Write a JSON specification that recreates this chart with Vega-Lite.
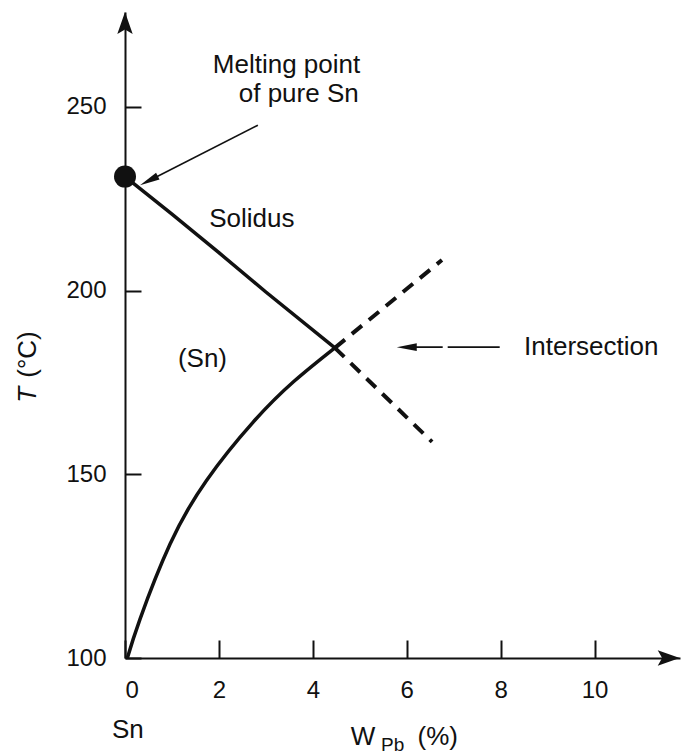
{
  "$schema": "https://vega.github.io/schema/vega-lite/v6.json",
  "width": 555,
  "height": 646,
  "autosize": "none",
  "padding": {"left": 125, "top": 12, "right": 2, "bottom": 98},
  "background": "white",
  "config": {
    "view": {"stroke": null},
    "font": "Liberation Sans",
    "axis": {
      "grid": false,
      "domainColor": "#111",
      "domainWidth": 2,
      "tickColor": "#111",
      "tickWidth": 2,
      "labelColor": "#111",
      "labelFont": "Liberation Sans",
      "labelFontSize": 24,
      "title": null
    }
  },
  "datasets": {
    "solidus": [
      {"x": 0, "y": 231},
      {"x": 1, "y": 220.8},
      {"x": 2, "y": 210.3},
      {"x": 3, "y": 199.6},
      {"x": 4.47, "y": 184.4}
    ],
    "solvus": [
      {"x": 0.05, "y": 100},
      {"x": 0.32, "y": 110.6},
      {"x": 0.96, "y": 131},
      {"x": 1.74, "y": 148.4},
      {"x": 2.73, "y": 164.2},
      {"x": 3.6, "y": 175.3},
      {"x": 4.47, "y": 184.4}
    ],
    "solidusExt": [
      {"x": 4.47, "y": 184.4},
      {"x": 6.54, "y": 158.8}
    ],
    "solvusExt": [
      {"x": 4.47, "y": 184.4},
      {"x": 6.75, "y": 208.3}
    ],
    "melt": [{"x": 0, "y": 231}],
    "labels": [
      {"x": 3.44, "y": 261.4, "text": "Melting point"},
      {"x": 3.7, "y": 253.4, "text": "of pure Sn"},
      {"x": 2.7, "y": 219.5, "text": "Solidus"},
      {"x": 1.65, "y": 181.4, "text": "(Sn)"},
      {"x": 9.93, "y": 184.6, "text": "Intersection"},
      {"x": 0.06, "y": 80.4, "text": "Sn"},
      {"x": 5.07, "y": 78.5, "text": "W"},
      {"x": 6.66, "y": 78.5, "text": "(%)"}
    ],
    "sub": [{"x": 5.7, "y": 76.4, "text": "Pb"}],
    "ytitleT": [{"x": -2.07, "y": 171.6, "text": "T"}],
    "ytitleU": [{"x": -2.07, "y": 182.6, "text": "(°C)"}],
    "arrow1": [{"x": 2.83, "y": 245.0, "x2": 0.509, "y2": 229.9}],
    "arrow1Head": [{"x": 0.509, "y": 229.9}],
    "arrow2": [{"x": 7.98, "y": 184.6, "x2": 6.0, "y2": 184.6}],
    "arrow2Head": [{"x": 6.0, "y": 184.6}],
    "axisHeadUp": [{"x": 0, "y": 272.8}],
    "axisHeadRight": [{"x": 11.58, "y": 100}]
  },
  "encoding": {
    "x": {
      "field": "x",
      "type": "quantitative",
      "scale": {"domain": [0, 11.82], "nice": false, "zero": false},
      "axis": {"values": [0, 2, 4, 6, 8, 10], "tickSize": -18, "labelPadding": 38}
    },
    "y": {
      "field": "y",
      "type": "quantitative",
      "scale": {"domain": [100, 275.8], "nice": false, "zero": false},
      "axis": {"values": [100, 150, 200, 250], "tickSize": -16, "labelPadding": 35}
    }
  },
  "layer": [
    {
      "data": {"name": "solidus"},
      "mark": {"type": "line", "color": "#111", "strokeWidth": 3.5}
    },
    {
      "data": {"name": "solvus"},
      "mark": {"type": "line", "color": "#111", "strokeWidth": 3.5, "interpolate": "natural"}
    },
    {
      "data": {"name": "solidusExt"},
      "mark": {"type": "line", "color": "#111", "strokeWidth": 4, "strokeDash": [13, 9]}
    },
    {
      "data": {"name": "solvusExt"},
      "mark": {"type": "line", "color": "#111", "strokeWidth": 4, "strokeDash": [13, 9]}
    },
    {
      "data": {"name": "melt"},
      "mark": {"type": "point", "shape": "circle", "filled": true, "color": "#111", "size": 484, "opacity": 1}
    },
    {
      "data": {"name": "arrow1"},
      "mark": {"type": "rule", "color": "#111", "strokeWidth": 1.6},
      "encoding": {"x2": {"field": "x2"}, "y2": {"field": "y2"}}
    },
    {
      "data": {"name": "arrow1Head"},
      "mark": {"type": "point", "shape": "M0,-1L0.38,1L-0.38,1Z", "filled": true, "color": "#111", "size": 400, "angle": 243, "opacity": 1}
    },
    {
      "data": {"name": "arrow2"},
      "mark": {"type": "rule", "color": "#111", "strokeWidth": 1.6, "strokeDash": [52, 5, 28, 5, 12, 100]},
      "encoding": {"x2": {"field": "x2"}, "y2": {"field": "y2"}}
    },
    {
      "data": {"name": "arrow2Head"},
      "mark": {"type": "point", "shape": "M0,-1L0.38,1L-0.38,1Z", "filled": true, "color": "#111", "size": 400, "angle": 270, "opacity": 1}
    },
    {
      "data": {"name": "axisHeadUp"},
      "mark": {"type": "point", "shape": "M0,-1L0.7,1L0,0.6L-0.7,1Z", "filled": true, "color": "#111", "size": 484, "angle": 0, "opacity": 1}
    },
    {
      "data": {"name": "axisHeadRight"},
      "mark": {"type": "point", "shape": "M0,-1L0.7,1L0,0.6L-0.7,1Z", "filled": true, "color": "#111", "size": 484, "angle": 90, "opacity": 1}
    },
    {
      "data": {"name": "labels"},
      "mark": {"type": "text", "font": "Liberation Sans", "fontSize": 26, "color": "#111", "align": "center", "baseline": "middle"},
      "encoding": {"text": {"field": "text"}}
    },
    {
      "data": {"name": "sub"},
      "mark": {"type": "text", "font": "Liberation Sans", "fontSize": 19, "color": "#111", "align": "center", "baseline": "middle"},
      "encoding": {"text": {"field": "text"}}
    },
    {
      "data": {"name": "ytitleT"},
      "mark": {"type": "text", "font": "Liberation Sans", "fontSize": 26, "fontStyle": "italic", "color": "#111", "align": "center", "baseline": "middle", "angle": 270},
      "encoding": {"text": {"field": "text"}}
    },
    {
      "data": {"name": "ytitleU"},
      "mark": {"type": "text", "font": "Liberation Sans", "fontSize": 26, "color": "#111", "align": "center", "baseline": "middle", "angle": 270},
      "encoding": {"text": {"field": "text"}}
    }
  ]
}
